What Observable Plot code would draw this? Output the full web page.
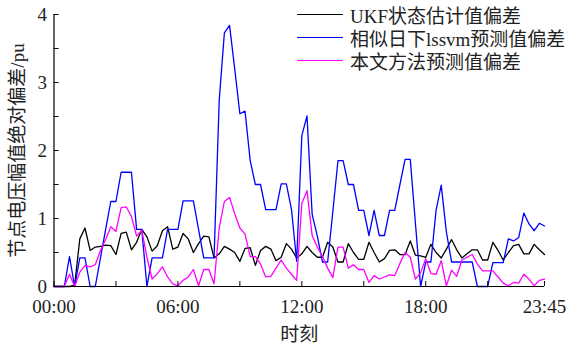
<!DOCTYPE html>
<html>
<head>
<meta charset="utf-8">
<script src="https://cdn.jsdelivr.net/npm/d3@7"></script>
<script src="https://cdn.jsdelivr.net/npm/@observablehq/plot@0.6"></script>
<style>
  html, body { margin: 0; padding: 0; background: #fff; }
  #wrap { position: relative; width: 574px; height: 347px; }
  .legend { position: absolute; left: 297px; top: 3px; font-family: "Liberation Serif", "Noto Sans CJK SC", serif; font-size: 19px; color: #222; }
  .legend .row { display: flex; align-items: center; height: 23px; }
  .legend .swatch { width: 46px; height: 0; border-top: 1.4px solid; margin-right: 7px; }
</style>
</head>
<body>
<div id="wrap"></div>
<script>
// Absolute deviation of node voltage magnitude (pu), 96 points at 15-minute intervals
const ukf = [
  0, 0, 0, 0, 0.02,
  0.70, 0.86, 0.53, 0.58, 0.59, 0.61, 0.60, 0.47, 0.78, 0.80, 0.54, 0.65, 0.84, 0.73, 0.52, 0.60, 0.82, 0.88, 0.55, 0.58,
  0.78, 0.70, 0.50, 0.63, 0.74, 0.73, 0.42,
  0.48, 0.59, 0.55, 0.50, 0.37, 0.56, 0.57, 0.31, 0.53, 0.59, 0.55, 0.38, 0.43, 0.63, 0.55,
  0.42, 0.48, 0.59, 0.50, 0.43, 0.43, 0.65, 0.58, 0.36, 0.36, 0.63, 0.50, 0.40, 0.40, 0.65, 0.50, 0.36, 0.41, 0.53, 0.54, 0.47, 0.47, 0.67, 0.46,
  0.45, 0.43, 0.62, 0.50, 0.42, 0.55, 0.69, 0.54, 0.42, 0.48, 0.54, 0.54, 0.39, 0.39, 0.65, 0.53, 0.39, 0.50, 0.60, 0.62, 0.48, 0.48, 0.62, 0.54, 0.47
];
const lssvm = [
  0, 0, 0, 0.44, 0, 0.42, 0.42, 0, 0, 0.42,
  0.84, 1.25, 1.25, 1.68, 1.68, 1.68, 0.84, 0.84, 0, 0.42,
  0.42, 0.42, 0.84, 0.84, 0.84, 1.26, 1.26, 1.26, 0.84, 0.42,
  0.42, 0.42, 2.74, 3.73, 3.84, 3.2, 2.54, 2.58, 1.85, 1.5,
  1.5, 1.13, 1.13, 1.13, 1.51, 1.51, 1.13, 0.37, 2.22, 2.51,
  1.06, 0.74, 0.36, 0.36, 1.1, 1.85, 1.85, 1.5, 1.5, 1.12,
  1.12, 0.75, 1.12, 0.75, 0.75, 1.12, 1.12, 1.5, 1.87, 1.87,
  0.93, 0, 0.36, 0.36, 1.12, 1.49, 0.8, 0.36, 0.36, 0.36,
  0.36, 0.36, 0, 0, 0, 0.35, 0.35, 0.35, 0.7, 0.67,
  0.72, 1.08, 0.92, 0.82, 0.93, 0.89
];
const proposed = [
  0, 0, 0, 0.18, 0, 0.21, 0.31, 0.29, 0.32, 0.53,
  0.69, 0.88, 0.81, 1.16, 1.17, 1.03, 0.74, 0.83, 0.43, 0.11,
  0.19, 0.29, 0.14, 0.04, 0.01, 0.09, 0.14, 0.25, 0.01, 0.25,
  0.25, 0.04, 0.86, 1.25, 1.31, 1.07, 0.86, 0.77, 0.44, 0.44,
  0.33, 0.14, 0.15, 0.27, 0.39, 0.27, 0.18, 0.09, 1.22, 1.41,
  0.75, 0.58, 0.44, 0.27, 0.13, 0.58, 0.58, 0.27, 0.32, 0.25,
  0.25, 0.06, 0.16, 0.11, 0.14, 0.17, 0.16, 0.34, 0.50, 0.43,
  0.11, 0.20, 0.41, 0.19, 0.18, 0.38, 0.01, 0.24, 0.15, 0.39,
  0.43, 0.47, 0.33, 0.23, 0.23, 0.23, 0.14, 0.05, 0.01, 0.06,
  0.05, 0.18, 0.11, 0.01, 0.09, 0.11
];

const seriesNames = ["UKF状态估计值偏差", "相似日下lssvm预测值偏差", "本文方法预测值偏差"];
const seriesColors = ["#000000", "#0000ff", "#ff00ff"];
const xTickSlots = [0, 12, 24, 36, 48, 60, 72, 84, 95];
const xLabelSlots = [0, 24, 48, 72, 95];
const xTickLabels = ["00:00", "06:00", "12:00", "18:00", "23:45"];
const yTicks = [0, 0.5, 1, 1.5, 2, 2.5, 3, 3.5, 4];
const yLabels = [0, 1, 2, 3, 4];

const toRows = (arr) => arr.map((v, i) => ({slot: i, v}));
const allSeries = [ukf, lssvm, proposed];

const font = '"Liberation Serif", "Noto Sans CJK SC", serif';

const chart = Plot.plot({
  width: 574,
  height: 347,
  marginLeft: 53.5,
  marginRight: 30,
  marginTop: 14,
  marginBottom: 61,
  style: {fontFamily: font, fontSize: "19px", color: "#222", background: "#fff"},
  x: {domain: [0, 95]},
  y: {domain: [0, 4]},
  marks: [
    ...allSeries.map((s, k) => Plot.line(toRows(s), {x: "slot", y: "v", stroke: seriesColors[k], strokeWidth: 1.3})),
    // inward tick marks only (no text)
    Plot.axisX({ticks: xTickSlots, tickSize: -5, tickFormat: () => null, label: null, stroke: "#000"}),
    Plot.axisX({ticks: xLabelSlots, tickSize: 0, tickPadding: 13, fontSize: 19,
      tickFormat: (d) => xTickLabels[xLabelSlots.indexOf(d)],
      label: "时刻", labelAnchor: "center", labelArrow: "none", labelOffset: 54}),
    Plot.axisY({ticks: yTicks, tickSize: -5, tickFormat: () => null, label: null, stroke: "#000"}),
    Plot.axisY({ticks: yLabels, tickSize: 0, tickPadding: 7, fontSize: 19, tickFormat: (d) => String(d),
      label: "节点电压幅值绝对偏差/pu", labelAnchor: "center", labelArrow: "none", labelOffset: 44}),
    Plot.ruleX([0], {stroke: "#000", strokeWidth: 1.2}),
    Plot.ruleY([0], {stroke: "#000", strokeWidth: 1.2})
  ]
});

const wrap = document.getElementById("wrap");
wrap.appendChild(chart);

const legend = document.createElement("div");
legend.className = "legend";
seriesNames.forEach((name, k) => {
  const row = document.createElement("div");
  row.className = "row";
  const sw = document.createElement("span");
  sw.className = "swatch";
  sw.style.borderColor = seriesColors[k];
  const label = document.createElement("span");
  label.textContent = name;
  row.appendChild(sw);
  row.appendChild(label);
  legend.appendChild(row);
});
wrap.appendChild(legend);
</script>
</body>
</html>
